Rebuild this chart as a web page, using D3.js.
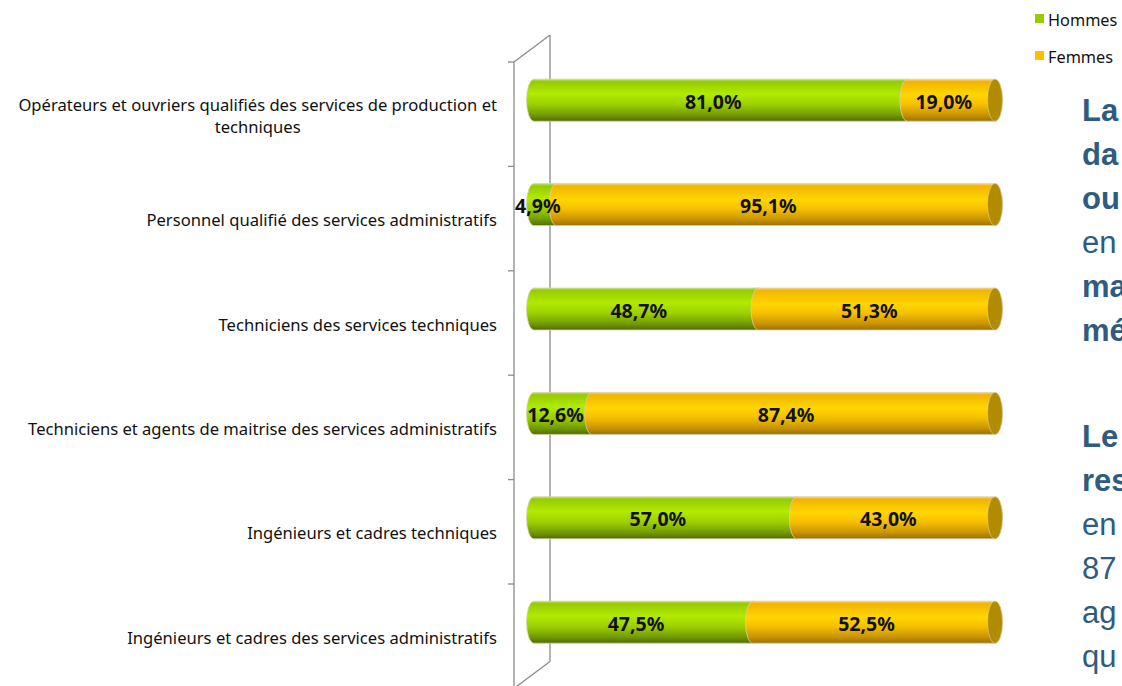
<!DOCTYPE html>
<html><head><meta charset="utf-8">
<script src="https://cdn.jsdelivr.net/npm/d3@7"></script>
<style>html,body{margin:0;padding:0;background:#fff;overflow:hidden}</style>
</head><body>
<svg id="c" width="1122" height="686"></svg>
<script>
const categories = [
  "Opérateurs et ouvriers qualifiés des services de production et\ntechniques",
  "Personnel qualifié des services administratifs",
  "Techniciens des services techniques",
  "Techniciens et agents de maitrise des services administratifs",
  "Ingénieurs et cadres techniques",
  "Ingénieurs et cadres des services administratifs"
];
const hommes = [81.0, 4.9, 48.7, 12.6, 57.0, 47.5];
const femmes = [19.0, 95.1, 51.3, 87.4, 43.0, 52.5];
const seriesNames = ["Hommes", "Femmes"];
const sideLines = [
  {t:"La", b:true}, {t:"da", b:true}, {t:"ou", b:true}, {t:"en", b:false},
  {t:"ma", b:true}, {t:"mé", b:true}, {t:"", b:false},
  {t:"Le", b:true}, {t:"res", b:true}, {t:"en", b:false}, {t:"87", b:false},
  {t:"ag", b:false}, {t:"qu", b:false}
];

const svg = d3.select("#c");
const fmt = v => v.toFixed(1).replace(".", ",") + "%";

const frontX = 514, depthX = 36, depthY = -27;
const barDX = 20, barDY = -14;
const y = d3.scaleBand().domain(d3.range(categories.length)).range([62, 62 + 6 * 104.4]).padding(0);
const x = d3.scaleLinear().domain([0, 100]).range([frontX, 975]);
const barH = 42, rx = 7.5, ry = barH / 2;

const defs = svg.append("defs");
function grad(id, stops) {
  const g = defs.append("linearGradient").attr("id", id).attr("x1", 0).attr("y1", 0).attr("x2", 0).attr("y2", 1);
  stops.forEach(s => g.append("stop").attr("offset", s[0]).attr("stop-color", s[1]));
}
grad("gG", [[0, "#b9dc6a"], [0.06, "#96cc00"], [0.35, "#b2ea00"], [0.6, "#9dd000"], [0.85, "#739b00"], [1, "#4f6c00"]]);
grad("gO", [[0, "#f3d27a"], [0.06, "#f2b400"], [0.38, "#ffd600"], [0.6, "#f6c000"], [0.85, "#c99400"], [1, "#9a7000"]]);
const colors = {Hommes: "url(#gG)", Femmes: "url(#gO)"};
const faceColors = {Hommes: "#7ea200", Femmes: "#b38b00"};
const legendColors = {Hommes: "#99cc00", Femmes: "#ffc000"};

// wall
const wall = svg.append("g").attr("stroke", "#8c8c8c").attr("stroke-width", 1.3).attr("fill", "none");
const [y0, y1] = y.range();
wall.append("line").attr("x1", frontX).attr("y1", y0).attr("x2", frontX).attr("y2", y1);
wall.append("line").attr("x1", frontX + depthX).attr("y1", y0 + depthY).attr("x2", frontX + depthX).attr("y2", y1 + depthY);
wall.append("line").attr("x1", frontX).attr("y1", y0).attr("x2", frontX + depthX).attr("y2", y0 + depthY);
wall.append("line").attr("x1", frontX).attr("y1", y1).attr("x2", frontX + depthX).attr("y2", y1 + depthY);
const ticks = d3.range(categories.length + 1).map(i => y0 + i * y.bandwidth());
wall.selectAll(".tk").data(ticks).join("line")
  .attr("x1", frontX - 6).attr("x2", frontX).attr("y1", d => d).attr("y2", d => d);

// category labels
const lab = svg.append("g").attr("font-family", "'Noto Sans', sans-serif").attr("font-size", 16.6).attr("fill", "#111");
categories.forEach((c, i) => {
  const lines = c.split("\n");
  const cy = y(i) + y.bandwidth() / 2;
  const t = lab.append("text").attr("y", cy - (lines.length - 1) * 11 + 1).attr("dominant-baseline", "central");
  if (lines.length === 1) {
    t.attr("x", 497).attr("text-anchor", "end").text(lines[0]);
  } else {
    const tmp = lab.append("text").text(lines[0]);
    const w = tmp.node().getComputedTextLength(); tmp.remove();
    const cx = 497 - w / 2;
    t.attr("text-anchor", "middle");
    lines.forEach((l, k) => t.append("tspan").attr("x", cx).attr("dy", k === 0 ? 0 : 22).text(l));
  }
});

// bars
function cyl(g, xa, xb, cy, fill, face, last) {
  const top = cy - ry, bot = cy + ry;
  g.append("path")
    .attr("d", `M${xa},${top}L${xb},${top}A${rx},${ry} 0 0 1 ${xb},${bot}L${xa},${bot}A${rx},${ry} 0 0 1 ${xa},${top}Z`)
    .attr("fill", fill).attr("stroke", "#d9cfae").attr("stroke-width", 0.8);
  if (last) g.append("ellipse").attr("cx", xb).attr("cy", cy).attr("rx", rx).attr("ry", ry)
    .attr("fill", face).attr("stroke", "#d9cfae").attr("stroke-width", 0.6);
}
const bars = svg.append("g");
const vals = {Hommes: hommes, Femmes: femmes};
categories.forEach((c, i) => {
  const cy = y(i) + y.bandwidth() / 2 + barDY;
  let acc = 0;
  seriesNames.forEach((s, k) => {
    const v = vals[s][i];
    const xa = x(acc) + barDX, xb = x(acc + v) + barDX;
    cyl(bars, xa, xb, cy, colors[s], faceColors[s], k === seriesNames.length - 1);
    acc += v;
  });
});
categories.forEach((c, i) => {
  const cy = y(i) + y.bandwidth() / 2 + barDY;
  let acc = 0;
  seriesNames.forEach(s => {
    const v = vals[s][i];
    const xa = x(acc) + barDX, xb = x(acc + v) + barDX;
    bars.append("text").attr("x", (xa + xb) / 2 - rx).attr("y", cy + 1)
      .attr("text-anchor", "middle").attr("dominant-baseline", "central")
      .attr("font-family", "'Noto Sans', sans-serif").attr("font-weight", "bold").attr("font-size", 19.5)
      .attr("fill", "#111").text(fmt(v));
    acc += v;
  });
});

// legend
const lg = svg.append("g").attr("font-family", "'Noto Sans', sans-serif").attr("font-size", 16.3).attr("fill", "#111");
seriesNames.forEach((s, k) => {
  const yy = 19 + k * 37;
  lg.append("rect").attr("x", 1035).attr("y", yy - 5).attr("width", 9).attr("height", 9).attr("fill", legendColors[s]);
  lg.append("text").attr("x", 1048).attr("y", yy + 1).attr("dominant-baseline", "central").text(s);
});

// side text
const st = svg.append("g").attr("font-family", "'Liberation Sans', Arial, sans-serif").attr("font-size", 31).attr("fill", "#2e5b7f");
let by = 121;
sideLines.forEach(l => {
  if (l.t === "") { by += 62; return; }
  st.append("text").attr("x", 1082).attr("y", by).attr("font-weight", l.b ? "bold" : "normal").text(l.t);
  by += 44;
});
</script>
</body></html>
